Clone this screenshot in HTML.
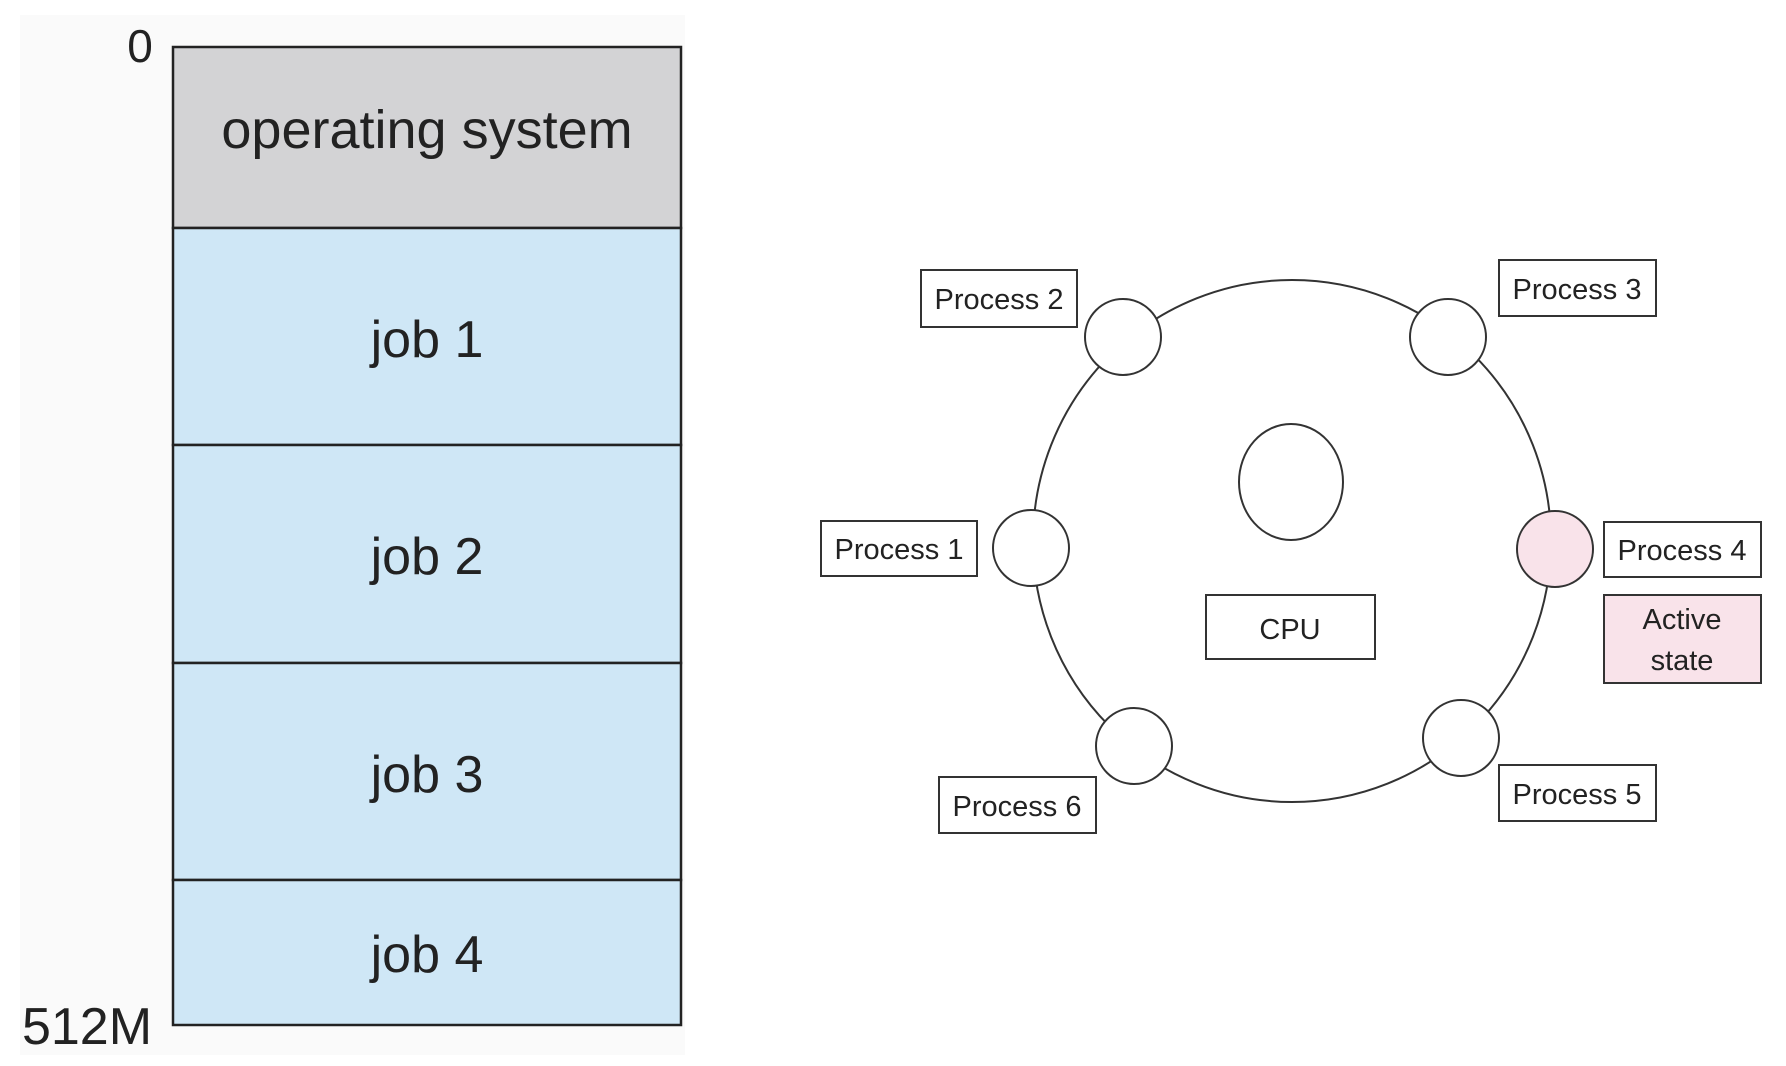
<!DOCTYPE html>
<html><head><meta charset="utf-8"><style>
html,body{margin:0;padding:0;background:#fff;width:1786px;height:1066px;overflow:hidden}
</style></head><body>
<svg width="1786" height="1066" viewBox="0 0 1786 1066" xmlns="http://www.w3.org/2000/svg">
<rect x="20" y="15" width="665" height="1040" fill="#fafafa"/>
<g stroke="#222" stroke-width="2.5">
<rect x="173" y="47" width="508" height="181" fill="#d3d3d5"/>
<rect x="173" y="228" width="508" height="217" fill="#cfe7f6"/>
<rect x="173" y="445" width="508" height="218" fill="#cfe7f6"/>
<rect x="173" y="663" width="508" height="217" fill="#cfe7f6"/>
<rect x="173" y="880" width="508" height="145" fill="#cfe7f6"/>
</g>
<g font-family="Liberation Sans, sans-serif" fill="#222" text-anchor="middle">
<text x="427" y="148" font-size="54">operating system</text>
<text x="427" y="357" font-size="52">job 1</text>
<text x="427" y="574" font-size="52">job 2</text>
<text x="427" y="792" font-size="52">job 3</text>
<text x="427" y="972" font-size="52">job 4</text>
<text x="140" y="62" font-size="46">0</text>
<text x="87" y="1044" font-size="52">512M</text>
</g>
<g stroke="#333" stroke-width="2" fill="#fff">
<ellipse cx="1292" cy="541" rx="259" ry="261"/>
<ellipse cx="1291" cy="482" rx="52" ry="58"/>
<circle cx="1123" cy="337" r="38"/>
<circle cx="1448" cy="337" r="38"/>
<circle cx="1031" cy="548" r="38"/>
<circle cx="1555" cy="549" r="38" fill="#f9e3ea"/>
<circle cx="1134" cy="746" r="38"/>
<circle cx="1461" cy="738" r="38"/>
<rect x="921" y="270" width="156" height="57"/>
<rect x="1499" y="260" width="157" height="56"/>
<rect x="821" y="521" width="156" height="55"/>
<rect x="1604" y="522" width="157" height="55"/>
<rect x="1604" y="595" width="157" height="88" fill="#f9e3ea"/>
<rect x="1206" y="595" width="169" height="64"/>
<rect x="939" y="777" width="157" height="56"/>
<rect x="1499" y="765" width="157" height="56"/>
</g>
<g font-family="Liberation Sans, sans-serif" fill="#222" text-anchor="middle" font-size="29">
<text x="999" y="309">Process 2</text>
<text x="1577" y="299">Process 3</text>
<text x="899" y="559">Process 1</text>
<text x="1682" y="560">Process 4</text>
<text x="1682" y="629">Active</text>
<text x="1682" y="670">state</text>
<text x="1290" y="639">CPU</text>
<text x="1017" y="816">Process 6</text>
<text x="1577" y="804">Process 5</text>
</g>
</svg>
</body></html>
